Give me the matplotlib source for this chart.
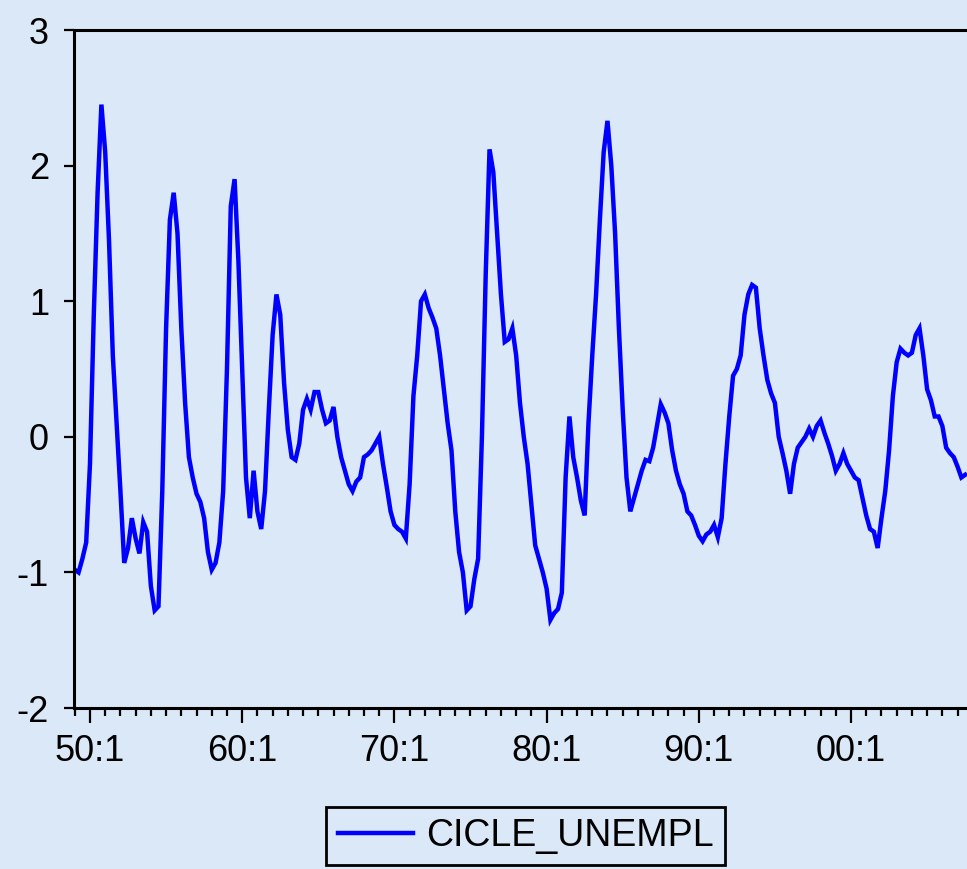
import numpy as np
import pandas as pd
import matplotlib
matplotlib.use("Agg")
import matplotlib.pyplot as plt
from matplotlib.ticker import MultipleLocator

plt.rcParams['font.family'] = ['Liberation Sans', 'DejaVu Sans']

# Serie trimestral (1949:1 en adelante)
cicle_unempl = [
    -0.98, -1.00, -0.90, -0.78, -0.20, 0.90, 1.80, 2.45, 2.10, 1.45,
    0.60, 0.10, -0.40, -0.93, -0.82, -0.60, -0.75, -0.86, -0.63, -0.70,
    -1.10, -1.28, -1.25, -0.40, 0.80, 1.60, 1.80, 1.50, 0.80, 0.25,
    -0.15, -0.30, -0.42, -0.48, -0.60, -0.85, -0.98, -0.93, -0.78, -0.40,
    0.50, 1.70, 1.90, 1.30, 0.50, -0.30, -0.60, -0.25, -0.55, -0.68,
    -0.40, 0.20, 0.75, 1.05, 0.90, 0.40, 0.05, -0.15, -0.17, -0.05,
    0.20, 0.28, 0.20, 0.33, 0.33, 0.20, 0.10, 0.12, 0.22, 0.00,
    -0.15, -0.25, -0.35, -0.40, -0.33, -0.30, -0.15, -0.13, -0.10, -0.05,
    0.00, -0.20, -0.37, -0.55, -0.65, -0.68, -0.70, -0.75, -0.35, 0.30,
    0.60, 1.00, 1.05, 0.95, 0.88, 0.80, 0.60, 0.35, 0.10, -0.10,
    -0.55, -0.85, -1.00, -1.28, -1.25, -1.05, -0.90, 0.00, 1.20, 2.12,
    1.95, 1.50, 1.05, 0.70, 0.72, 0.80, 0.60, 0.25, 0.00, -0.20,
    -0.50, -0.80, -0.90, -1.00, -1.12, -1.35, -1.30, -1.27, -1.15, -0.30,
    0.15, -0.15, -0.30, -0.47, -0.58, 0.10, 0.60, 1.05, 1.60, 2.10,
    2.33, 2.00, 1.50, 0.80, 0.20, -0.30, -0.55, -0.45, -0.35, -0.25,
    -0.17, -0.18, -0.08, 0.08, 0.24, 0.18, 0.10, -0.10, -0.25, -0.35,
    -0.42, -0.55, -0.58, -0.65, -0.73, -0.77, -0.72, -0.70, -0.65, -0.74,
    -0.60, -0.20, 0.15, 0.45, 0.50, 0.60, 0.90, 1.05, 1.12, 1.10,
    0.80, 0.60, 0.42, 0.32, 0.25, 0.00, -0.12, -0.25, -0.42, -0.20,
    -0.08, -0.04, 0.00, 0.06, 0.00, 0.08, 0.12, 0.03, -0.05, -0.14,
    -0.25, -0.20, -0.12, -0.20, -0.25, -0.30, -0.32, -0.45, -0.58, -0.68,
    -0.70, -0.82, -0.60, -0.40, -0.10, 0.30, 0.55, 0.65, 0.62, 0.60,
    0.62, 0.75, 0.80, 0.60, 0.35, 0.27, 0.15, 0.15, 0.08, -0.08,
    -0.12, -0.15, -0.22, -0.30, -0.28,
]

# Etiquetas del eje X (formato EViews)
anios_ticks = [1950, 1960, 1970, 1980, 1990, 2000]
etiquetas_x = ['50:1', '60:1', '70:1', '80:1', '90:1', '00:1']
ticks_y = [-2, -1, 0, 1, 2, 3]

# Fechas trimestrales en anios decimales
periodos = pd.period_range('1949Q1', periods=len(cicle_unempl), freq='Q')
fechas = periodos.year + (periodos.quarter - 1) / 4.0

fondo = '#DAE8F7'
fig = plt.figure(figsize=(9.67, 8.69), dpi=100, facecolor=fondo)
ax = fig.add_axes([74 / 967, 1 - 708 / 869, 1 - 74 / 967, (708 - 30) / 869])
ax.patch.set_visible(False)

linea, = ax.plot(fechas, cicle_unempl, color='#0000FF', lw=3.2,
                 solid_joinstyle='miter', label='CICLE_UNEMPL')

ax.set_xlim(1948.95, 2007.62)
ax.set_ylim(-2, 3)
ax.set_xticks(anios_ticks)
ax.set_xticklabels(etiquetas_x)
ax.xaxis.set_minor_locator(MultipleLocator(1))
ax.set_yticks(ticks_y)
ax.set_yticklabels([str(v) for v in ticks_y])

ax.spines['right'].set_visible(False)
for s in ['left', 'top', 'bottom']:
    ax.spines[s].set_linewidth(2.2)
    ax.spines[s].set_color('black')

ax.tick_params(axis='x', which='major', direction='out', length=11, width=1.6,
               labelsize=26, pad=8)
ax.tick_params(axis='x', which='minor', direction='out', length=6, width=1.6)
ax.tick_params(axis='y', which='major', direction='out', length=7, width=1.6,
               labelsize=26, pad=11)

# Leyenda debajo del grafico
leg = fig.legend(handles=[linea], loc='center',
                 bbox_to_anchor=(525.5 / 967, 1 - 836 / 869),
                 fontsize=27, frameon=True, fancybox=False, framealpha=1,
                 handlelength=2.0, handletextpad=0.35, borderpad=0.3)
leg.get_frame().set_edgecolor('black')
leg.get_frame().set_linewidth(2.0)
leg.get_frame().set_facecolor('none')

fig.savefig('out.png', dpi=100, facecolor=fondo)
